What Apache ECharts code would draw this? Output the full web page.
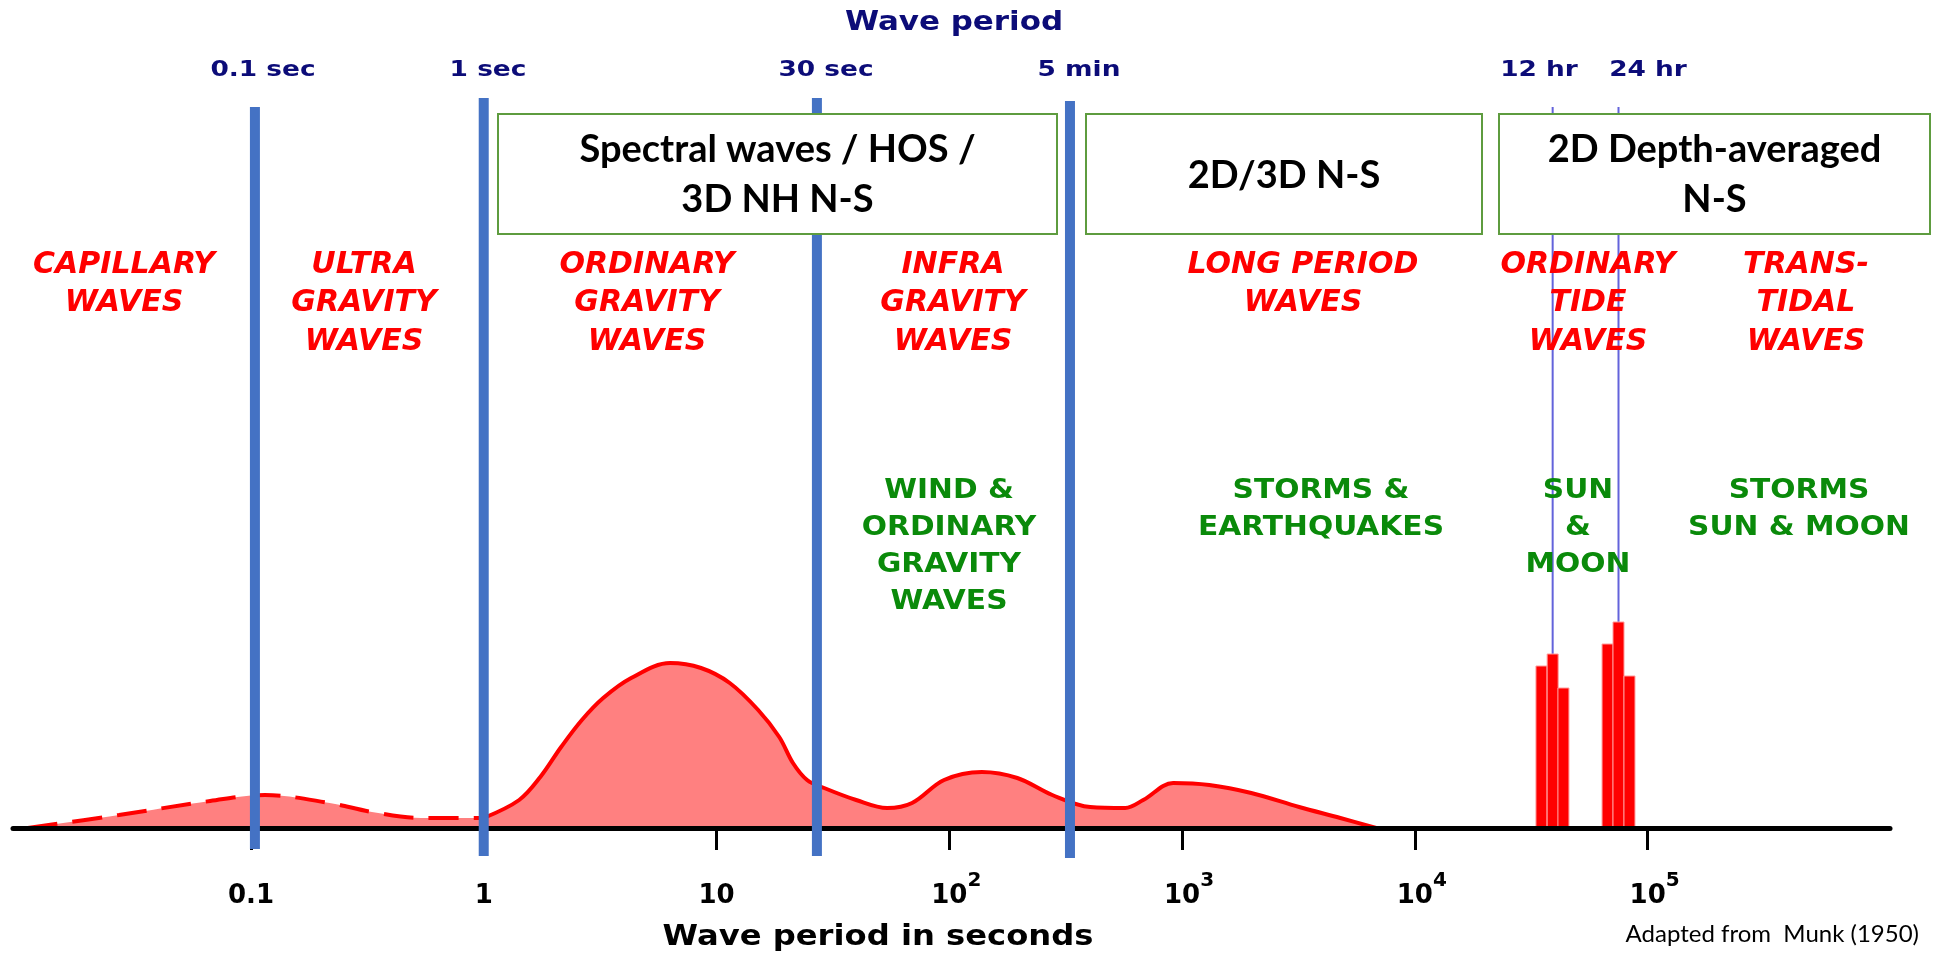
<!DOCTYPE html>
<html>
<head>
<meta charset="utf-8">
<script src="https://cdn.jsdelivr.net/npm/echarts@6/dist/echarts.min.js"></script>
<style>
html,body{margin:0;padding:0;background:#ffffff;}
#chart{width:1936px;height:955px;}
</style>
</head>
<body>
<div id="chart"></div>
<script>
// ---------------- DATA ----------------
// x-axis ticks (wave period, seconds) and their labels (base + superscript exponent)
const tickPeriods = [0.1, 1, 10, 100, 1000, 10000, 100000];
const tickBase = ['0.1', '1', '10', '10', '10', '10', '10'];
const tickExp = ['', '', '', '2', '3', '4', '5'];

// capillary / ultra-gravity part of the spectrum (dashed), period [s] and relative energy
const lowPeriod = [0.0110, 0.0271, 0.0668, 0.1148, 0.218, 0.331, 0.538, 1.0];
const lowEnergy = [0, 13, 27, 33, 25, 16, 10, 10];

// gravity / infragravity / long-period part of the spectrum (solid)
const mainPeriod = [1.0, 1.42, 1.75, 2.15, 2.64, 3.26, 4.30, 6.32, 8.58, 11.4, 15.1, 18.6, 21.3, 24.5, 29.0, 39.8, 54.1, 69.2, 95.0, 138, 196, 277, 403, 570, 681, 916, 1309, 1983, 3184, 4786, 6823];
const mainEnergy = [10, 28, 51, 81, 108, 130, 150, 165, 160, 145, 118, 91, 65, 48, 40, 28, 20, 25, 48, 56, 50, 33, 21, 20, 28, 45, 43, 35, 21, 10, 0];

// tidal lines (bars)
const tidePeriod = [35000, 39100, 43500, 67300, 75000, 83600];
const tideEnergy = [162, 174, 140, 184, 206, 152];

// boundaries (thick blue lines) and tidal marker lines
const boundaryPeriod = [0.104, 1, 27, 330];
const boundaryNames = ['0.1 sec', '1 sec', '30 sec', '5 min'];
const tideLinePeriod = [39100, 75000];
const tideLineNames = ['12 hr', '24 hr'];

// text annotations
const waveClasses = ['CAPILLARY\nWAVES', 'ULTRA\nGRAVITY\nWAVES', 'ORDINARY\nGRAVITY\nWAVES', 'INFRA\nGRAVITY\nWAVES', 'LONG PERIOD\nWAVES', 'ORDINARY\nTIDE\nWAVES', 'TRANS-\nTIDAL\nWAVES'];
const forcings = ['WIND &\nORDINARY\nGRAVITY\nWAVES', 'STORMS &\nEARTHQUAKES', 'SUN\n&\nMOON', 'STORMS\nSUN & MOON'];
const modelNames = ['Spectral waves / HOS /\n3D NH N-S', '2D/3D N-S', '2D Depth-averaged\nN-S'];
const topTitle = 'Wave period';
const axisTitle = 'Wave period in seconds';
const sourceNote = 'Adapted from  Munk (1950)';

// ---------------- LAYOUT (pixels / styles) ----------------
const LAYOUT = {
  waveX: [124, 364, 647, 953, 1303, 1588, 1806], waveFirstY: 265, waveLH: 38.5,
  forceX: [949, 1321, 1578, 1799], forceFirstY: 491, forceLH: 37,
  boxes: [[498, 114, 559, 120], [1086, 114, 396, 120], [1499, 114, 431, 120]],
  boxTextY: [[150, 200], [176], [150, 200]],
  periodLabelX: [263, 488, 826, 1079], tideLabelX: [1539, 1648], periodLabelY: 70,
  boundaryTop: [721, 730, 730, 727], boundaryBottom: [-21, -28, -28, -30],
  tideLineTop: 721
};
const BLUE = '#4472C4', RED = '#ff0000', FILL = '#ff8080', GREEN = '#0a8a0a', NAVY = '#0c0c78', BOXGREEN = '#5e9c3f';

const lg = v => Math.round(Math.log10(v) * 1e9) / 1e9;
const zip = (a, b) => a.map((v, i) => [lg(v), b[i]]);
const tickLogs = tickPeriods.map(lg);

const chart = echarts.init(document.getElementById('chart'), null, {renderer: 'canvas'});

function labelFor(value) {
  let idx = tickLogs.findIndex(t => Math.abs(t - value) < 1e-6);
  if (idx < 0) return '';
  if (tickExp[idx]) return '{bp|' + tickBase[idx] + '}{s|' + tickExp[idx] + '}';
  return '{bt|' + tickBase[idx] + '}';
}

function text(x, y, str, o) {
  return {
    type: 'text', x: x, y: y, z: 20, scaleX: o.scaleX || 1, silent: true,
    style: {
      text: str, fill: o.color, fontFamily: o.family || 'DejaVu Sans', fontSize: o.size,
      fontWeight: o.weight || 'bold', fontStyle: o.style || 'normal',
      lineHeight: o.lh || Math.round(o.size * 1.2),
      align: o.align || 'center', textAlign: o.align || 'center',
      verticalAlign: o.va || 'middle', textVerticalAlign: o.va || 'middle'
    }
  };
}

const graphics = [];
// model boxes
LAYOUT.boxes.forEach((b, i) => {
  graphics.push({type: 'rect', z: 15, silent: true, shape: {x: b[0], y: b[1], width: b[2], height: b[3]},
    style: {fill: '#ffffff', stroke: BOXGREEN, lineWidth: 2}});
  const lines = modelNames[i].split('\n');
  lines.forEach((ln, j) => {
    graphics.push(text(b[0] + b[2] / 2, LAYOUT.boxTextY[i][j], ln, {color: '#000', family: 'Lato', size: 38, weight: 'bold'}));
  });
});
// wave classes (red)
waveClasses.forEach((t, i) => {
  graphics.push(text(LAYOUT.waveX[i], LAYOUT.waveFirstY - LAYOUT.waveLH / 2, t,
    {color: RED, size: 30, style: 'italic', lh: LAYOUT.waveLH, va: 'top'}));
});
// forcings (green)
forcings.forEach((t, i) => {
  graphics.push(text(LAYOUT.forceX[i], LAYOUT.forceFirstY - LAYOUT.forceLH / 2, t,
    {color: GREEN, size: 27, scaleX: 1.1, lh: LAYOUT.forceLH, va: 'top'}));
});
// top period labels
boundaryNames.forEach((t, i) => graphics.push(text(LAYOUT.periodLabelX[i], LAYOUT.periodLabelY, t, {color: NAVY, size: 22, scaleX: 1.2})));
tideLineNames.forEach((t, i) => graphics.push(text(LAYOUT.tideLabelX[i], LAYOUT.periodLabelY, t, {color: NAVY, size: 22, scaleX: 1.2})));
graphics.push(text(954, 23, topTitle, {color: NAVY, size: 26, scaleX: 1.19}));
graphics.push(text(878, 938, axisTitle, {color: '#000', size: 28, scaleX: 1.15}));
graphics.push(text(1919, 934, sourceNote, {color: '#000', family: 'Lato', size: 24, weight: 'normal', align: 'right'}));

const option = {
  animation: false,
  backgroundColor: '#ffffff',
  grid: {left: 13, right: 46, top: 98, bottom: 97, containLabel: false},
  xAxis: {
    type: 'value', min: Math.log10(0.0095), max: Math.log10(1.1e6), z: 5,
    splitLine: {show: false},
    axisLine: {onZero: true, lineStyle: {color: '#000', width: 5, cap: 'round'}},
    axisTick: {customValues: tickLogs, length: 22, lineStyle: {color: '#000', width: 3}},
    axisLabel: {
      customValues: tickLogs, margin: 21, formatter: labelFor,
      rich: {
        bt: {fontFamily: 'DejaVu Sans', fontWeight: 'bold', fontSize: 26, color: '#000', lineHeight: 30, padding: [10, 0, 0, 0], verticalAlign: 'bottom'},
        bp: {fontFamily: 'DejaVu Sans', fontWeight: 'bold', fontSize: 26, color: '#000', lineHeight: 30, padding: [0, 0, 0, 14], verticalAlign: 'bottom'},
        s: {fontFamily: 'DejaVu Sans', fontWeight: 'bold', fontSize: 20, color: '#000', lineHeight: 22, padding: [0, 0, 18, 0], verticalAlign: 'bottom'}
      }
    }
  },
  yAxis: {type: 'value', min: -30, max: 730, show: false},
  graphic: {elements: graphics},
  series: [
    {
      name: 'low', type: 'line', z: 2, smooth: 0.35, symbol: 'none', silent: true,
      data: zip(lowPeriod, lowEnergy),
      lineStyle: {color: RED, width: 4, type: [30, 15]},
      areaStyle: {color: FILL, opacity: 1}
    },
    {
      name: 'main', type: 'line', z: 2, smooth: 0.35, symbol: 'none', silent: true,
      data: zip(mainPeriod, mainEnergy),
      lineStyle: {color: RED, width: 4},
      areaStyle: {color: FILL, opacity: 1}
    },
    {
      name: 'tideLines', type: 'custom', z: 3, silent: true,
      data: tideLinePeriod.map(p => [lg(p)]),
      encode: {x: 0},
      renderItem: (params, api) => {
        const a = api.coord([api.value(0), LAYOUT.tideLineTop]);
        const b = api.coord([api.value(0), 0]);
        return {type: 'line', shape: {x1: a[0], y1: a[1], x2: b[0], y2: b[1]},
          style: {stroke: 'rgba(60,60,210,0.8)', lineWidth: 2}};
      }
    },
    {
      name: 'tides', type: 'custom', z: 4, silent: true,
      data: zip(tidePeriod, tideEnergy),
      encode: {x: 0, y: 1},
      renderItem: (params, api) => {
        const top = api.coord([api.value(0), api.value(1)]);
        const base = api.coord([api.value(0), 0]);
        return {type: 'rect', shape: {x: top[0] - 5.5, y: top[1], width: 11, height: base[1] - top[1]},
          style: {fill: RED, stroke: '#ff9c9c', lineWidth: 1}};
      }
    },
    {
      name: 'boundaries', type: 'custom', z: 6, silent: true,
      data: boundaryPeriod.map((p, i) => [lg(p), LAYOUT.boundaryTop[i], LAYOUT.boundaryBottom[i]]),
      encode: {x: 0},
      renderItem: (params, api) => {
        const a = api.coord([api.value(0), api.value(1)]);
        const b = api.coord([api.value(0), api.value(2)]);
        return {type: 'line', shape: {x1: a[0], y1: a[1], x2: b[0], y2: b[1]},
          style: {stroke: BLUE, lineWidth: 10, lineCap: 'butt'}};
      }
    }
  ]
};
chart.setOption(option);
</script>
</body>
</html>
